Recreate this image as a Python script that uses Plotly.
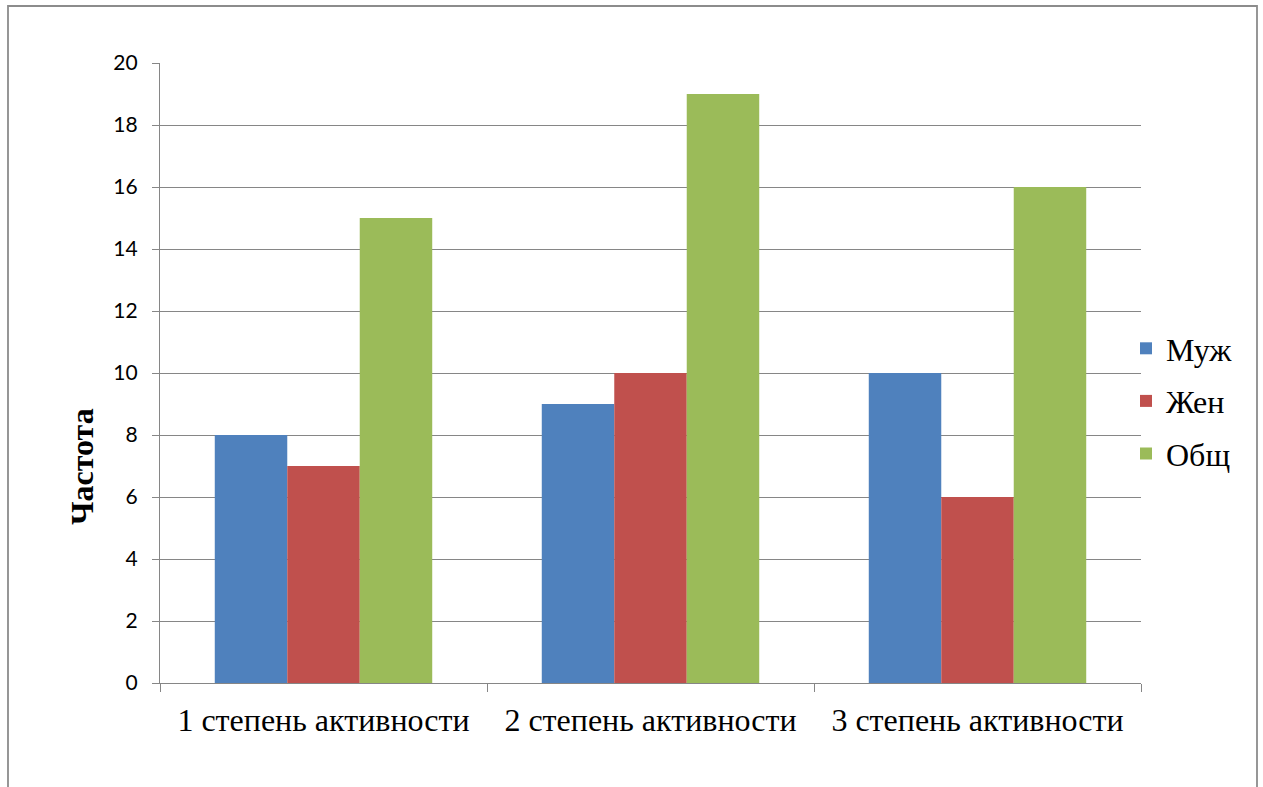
import plotly.graph_objects as go

categories = ["1 степень активности", "2 степень активности", "3 степень активности"]
series_names = ["Муж", "Жен", "Общ"]
male = [8, 9, 10]
female = [7, 10, 6]
total = [15, 19, 16]
colors = ["#4F81BD", "#C0504D", "#9BBB59"]
y_ticks = [0, 2, 4, 6, 8, 10, 12, 14, 16, 18, 20]

W, H = 1263, 787
L, R, T, B = 160, 122, 63, 104
pw, ph = W - L - R, H - T - B

SERIF = "Liberation Serif, Times New Roman, serif"

fig = go.Figure()
for name, vals, col in zip(series_names, [male, female, total], colors):
    fig.add_trace(go.Bar(
        x=categories, y=vals, name=name, legendgroup=name,
        marker=dict(color=col, line=dict(width=0)),
    ))

grid = "#868686"
fig.update_layout(
    width=W, height=H,
    margin=dict(l=L, r=R, t=T, b=B, pad=0),
    paper_bgcolor="white", plot_bgcolor="white",
    barmode="group", bargap=0.335, bargroupgap=0,
    showlegend=True,
    legend=dict(
        x=(1126 - L) / pw, xanchor="left",
        y=(H - B - 401) / ph, yanchor="middle",
        font=dict(family=SERIF, size=32, color="black"),
        traceorder="grouped", tracegroupgap=8,
        bgcolor="rgba(0,0,0,0)", itemwidth=30,
    ),
    xaxis=dict(
        type="category",
        showline=True, linecolor=grid, linewidth=1.3,
        ticks="outside", tickson="boundaries", ticklen=8, tickcolor=grid, tickwidth=1.3,
        tickfont=dict(family=SERIF, size=32, color="black"),
        ticklabelstandoff=8,
        showgrid=False,
    ),
    yaxis=dict(
        range=[0, 20], tickmode="array", tickvals=y_ticks,
        ticktext=[str(v) for v in y_ticks],
        showline=True, linecolor=grid, linewidth=1.3,
        ticks="outside", ticklen=7, tickcolor=grid, tickwidth=1.3,
        showgrid=True, gridcolor=grid, gridwidth=1.3,
        tickfont=dict(family="Lato", size=21, color="black"),
        ticklabelstandoff=10,
        zeroline=False,
    ),
    annotations=[dict(
        text="<b>Частота</b>", textangle=-90,
        xref="paper", yref="paper",
        x=(82 - L) / pw, y=(H - B - 467) / ph,
        xanchor="center", yanchor="middle", showarrow=False,
        font=dict(family=SERIF, size=32, color="black"),
    )],
    shapes=[dict(
        type="rect", xref="paper", yref="paper",
        x0=(8 - L) / pw, x1=(1257 - L) / pw,
        y0=(H - B - 820) / ph, y1=(H - B - 6) / ph,
        line=dict(color="#8C8C8C", width=1.8), fillcolor="rgba(0,0,0,0)",
        layer="below",
    )],
)

fig.write_html("out.html")
